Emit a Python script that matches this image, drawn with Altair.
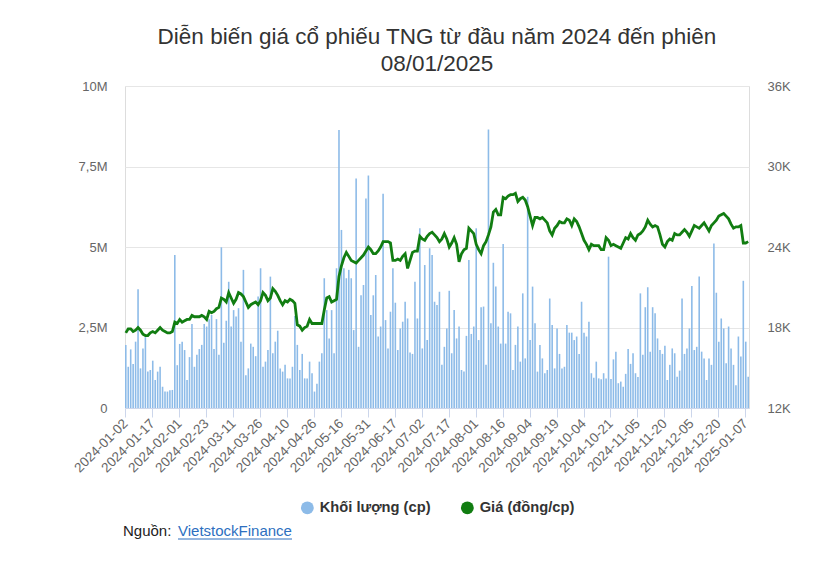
import altair as alt
import pandas as pd

FONT = "Liberation Sans"

TITLE_LINES = ["Diễn biến giá cổ phiếu TNG từ đầu năm 2024 đến phiên", "08/01/2025"]
SERIES = ["Khối lượng (cp)", "Giá (đồng/cp)"]
SERIES_COLORS = ["#8dbbe8", "#117d11"]
SOURCE_PREFIX = ["Nguồn:"]
SOURCE_LINK = ["VietstockFinance"]

START, END = "2024-01-02", "2025-01-08"
HOLIDAYS = ["2024-01-01", "2024-02-08", "2024-02-09", "2024-02-12", "2024-02-13",
            "2024-02-14", "2024-04-18", "2024-04-29", "2024-04-30", "2024-05-01",
            "2024-09-02", "2024-09-03", "2025-01-01"]

TICK_LABELS = ["2024-01-02", "2024-01-17", "2024-02-01", "2024-02-23", "2024-03-11",
               "2024-03-26", "2024-04-10", "2024-04-26", "2024-05-16", "2024-05-31",
               "2024-06-17", "2024-07-02", "2024-07-17", "2024-08-01", "2024-08-16",
               "2024-09-04", "2024-09-19", "2024-10-04", "2024-10-21", "2024-11-05",
               "2024-11-20", "2024-12-05", "2024-12-20", "2025-01-07"]

VOL_TICKS = [0, 2.5, 5, 7.5, 10]
PRICE_TICKS = [12000, 18000, 24000, 30000, 36000]

# volume, millions of shares
VOLUME_M = [
    1.96, 1.28, 1.82, 1.37, 2.06, 3.69, 1.23, 1.85, 2.20, 1.13,
    1.18, 1.47, 0.87, 1.13, 1.28, 0.66, 0.51, 0.51, 0.55, 0.56,
    4.75, 1.33, 1.99, 2.06, 1.80, 0.87, 1.58, 2.61, 1.28, 1.65,
    1.83, 1.96, 2.61, 2.53, 2.76, 2.89, 1.83, 2.76, 1.65, 4.99,
    2.03, 2.71, 3.92, 2.53, 3.04, 2.84, 3.10, 2.06, 4.29, 1.02,
    1.23, 2.00, 1.90, 1.61, 3.46, 4.34, 1.28, 1.44, 1.80, 4.08,
    1.70, 2.06, 2.40, 1.23, 1.13, 1.34, 0.92, 0.92, 1.28, 2.86,
    1.96, 1.18, 1.68, 0.92, 0.92, 1.44, 1.08, 0.51, 0.75, 1.44,
    1.70, 4.03, 3.04, 2.16, 3.04, 1.70, 4.34, 8.63, 5.53, 4.34,
    4.03, 4.29, 4.03, 2.42, 7.13, 1.90, 3.50, 3.82, 6.51, 7.22,
    2.89, 3.50, 4.13, 2.22, 2.53, 6.65, 2.73, 1.85, 2.99, 4.34,
    3.27, 1.80, 2.47, 2.68, 3.30, 2.78, 1.72, 1.68, 3.92, 2.78,
    5.58, 1.85, 4.44, 2.11, 4.96, 4.75, 3.30, 3.20, 3.61, 1.34,
    1.90, 2.47, 3.64, 1.70, 3.04, 2.16, 2.53, 1.18, 1.13, 2.24,
    4.60, 2.30, 2.53, 5.58, 2.11, 3.13, 3.15, 1.34, 8.65, 2.63,
    4.51, 3.77, 2.53, 2.00, 5.09, 2.00, 2.99, 2.94, 1.18, 1.96,
    2.53, 1.44, 3.56, 1.54, 6.56, 2.11, 3.77, 2.63, 1.13, 1.96,
    1.54, 1.08, 1.18, 3.40, 2.58, 1.23, 2.47, 1.68, 1.23, 1.28,
    2.58, 2.34, 2.34, 2.11, 2.22, 1.68, 3.30, 2.34, 2.22, 2.68,
    1.08, 0.94, 1.44, 0.92, 0.89, 1.08, 0.92, 4.70, 0.90, 1.51,
    1.75, 0.77, 0.82, 0.66, 1.06, 1.83, 1.37, 1.70, 1.08, 0.96,
    3.56, 1.65, 3.13, 3.75, 1.75, 3.13, 2.94, 2.16, 1.80, 1.68,
    1.93, 0.87, 1.34, 1.85, 1.70, 0.97, 1.16, 3.40, 1.68, 1.85,
    2.47, 3.79, 1.80, 1.90, 4.08, 1.75, 1.54, 0.87, 1.54, 1.34,
    5.11, 3.58, 2.06, 2.78, 2.47, 1.39, 2.53, 1.85, 1.34, 0.71,
    2.22, 1.60, 3.95, 2.06, 0.97,
]

# closing price, VND per share
PRICE = [
    17600, 17900, 17900, 17700, 17800, 18000, 17800, 17500, 17400, 17400,
    17600, 17700, 17600, 17800, 18000, 17800, 17700, 17600, 17600, 17700,
    18400, 18300, 18600, 18400, 18500, 18600, 18600, 18900, 18800, 18800,
    18800, 18900, 18800, 18600, 19200, 19100, 19200, 19400, 19500, 20200,
    20100, 19900, 20600, 20200, 19800, 20100, 20600, 20500, 20300, 19900,
    19500, 19700, 19800, 19900, 19700, 20000, 20600, 20400, 20000, 20200,
    20900, 20700, 20400, 20000, 19700, 20000, 19900, 20100, 20000, 19800,
    18200, 18100, 17800, 18000, 18100, 18600, 18300, 18300, 18300, 18300,
    18300, 19300, 20200, 20300, 19900, 20000, 20100, 21800, 22600, 23200,
    23600, 23300, 23000, 22900, 22800, 23000, 23200, 23400, 23700, 24000,
    23800, 23500, 23500, 23700, 24000, 24400, 24400, 24400, 24300, 23000,
    23000, 23100, 23000, 23300, 23500, 22400, 23000, 23600, 23700, 23700,
    24800, 24600, 24500, 24800, 25000, 25100, 24900, 24700, 24400, 24600,
    25000, 24600, 24000, 24300, 24700, 24200, 22900, 23500, 23800, 23900,
    25400, 25200, 25000, 24200, 23800, 23500, 24100, 24400, 24900, 25500,
    26600, 26800, 26400, 26400, 27700, 27600, 27800, 27900, 27900, 28000,
    27400, 27600, 27700, 27500, 27000, 26300, 25600, 26200, 26200, 26100,
    26200, 26000, 25800, 25200, 24900, 25400, 25600, 25900, 25800, 25800,
    26100, 26000, 25600, 26100, 25900, 25500, 25000, 24500, 24200, 23800,
    24200, 24100, 24100, 24100, 23800, 23800, 24700, 24500, 24100, 24200,
    24100, 24000, 23900, 24300, 24700, 24600, 25000, 24700, 24500, 24900,
    25000, 25200, 25500, 26000, 25700, 25500, 25600, 25500, 24900, 24200,
    24000, 24400, 24600, 24500, 25000, 24900, 24900, 25100, 25300, 25100,
    24800, 25200, 25600, 25500, 25400, 25600, 25800, 25500, 25200, 25600,
    25800, 26000, 26300, 26400, 26500, 26300, 26100, 25700, 25400, 25500,
    25500, 25600, 24300, 24300, 24400,
]

days = [d.strftime("%Y-%m-%d") for d in pd.bdate_range(START, END)]
DATES = [d for d in days if d not in HOLIDAYS]
assert len(DATES) == len(VOLUME_M) == len(PRICE), (len(DATES), len(VOLUME_M), len(PRICE))

df = pd.DataFrame({"date": DATES, "volume": VOLUME_M, "price": PRICE,
                   "series": [SERIES[0]] * len(DATES)})

x_enc = alt.X(
    "date:O", sort=None, title=None,
    scale=alt.Scale(paddingInner=0.35, paddingOuter=0.0),
    axis=alt.Axis(values=TICK_LABELS, labelAngle=-45, labelAlign="right",
                  labelBaseline="middle", labelPadding=4, tickSize=9,
                  tickColor="#ccd6eb", domainColor="#ccd6eb", labelColor="#666666",
                  labelFontSize=13.5, labelFont=FONT, grid=False, labelOverlap=False),
)

bars = alt.Chart(df).mark_bar(opacity=1).encode(
    x=x_enc,
    y=alt.Y("volume:Q", title=None,
            scale=alt.Scale(domain=[0, 10], nice=False),
            axis=alt.Axis(orient="left", values=VOL_TICKS, domain=False, ticks=False,
                          labelPadding=18, labelColor="#666666", labelFontSize=13,
                          labelFont=FONT, gridColor="#e6e6e6", grid=True,
                          labelExpr="datum.value == 0 ? '0' : replace(format(datum.value, '~g'), '.', ',') + 'M'")),
    color=alt.Color("series:N",
                    scale=alt.Scale(domain=SERIES, range=SERIES_COLORS),
                    legend=alt.Legend(title=None, orient="none", direction="horizontal",
                                      legendX=175, legendY=414, symbolType="circle",
                                      symbolSize=165, symbolStrokeWidth=0,
                                      labelFont=FONT, labelFontSize=14.7,
                                      labelFontWeight="bold", labelColor="#333333",
                                      labelOffset=5, columnPadding=29)),
)

line = alt.Chart(df).mark_line(color=SERIES_COLORS[1], strokeWidth=2.8).encode(
    x=x_enc,
    y=alt.Y("price:Q", title=None,
            scale=alt.Scale(domain=[12000, 36000], nice=False, zero=False),
            axis=alt.Axis(orient="right", values=PRICE_TICKS, domain=False, ticks=False,
                          grid=False, labelPadding=18, labelColor="#666666",
                          labelFontSize=13, labelFont=FONT,
                          labelExpr="format(datum.value / 1000, 'd') + 'K'")),
)

src1 = alt.Chart(pd.DataFrame({"t": SOURCE_PREFIX})).mark_text(
    align="left", baseline="alphabetic", fontSize=15, font=FONT, color="#222222"
).encode(x=alt.value(-2), y=alt.value(450), text="t:N")

src2 = alt.Chart(pd.DataFrame({"t": SOURCE_LINK})).mark_text(
    align="left", baseline="alphabetic", fontSize=15, font=FONT, color="#2d6fbf"
).encode(x=alt.value(53), y=alt.value(450), text="t:N")

underline = alt.Chart(pd.DataFrame({"t": SOURCE_LINK})).mark_rule(
    color="#2d6fbf", strokeWidth=1
).encode(x=alt.value(53), x2=alt.value(167), y=alt.value(453))

chart = alt.layer(bars, line, src1, src2, underline).resolve_scale(
    y="independent"
).properties(
    width=624, height=322,
    autosize=alt.AutoSizeParams(type="none"),
    padding={"left": 125, "top": 86, "right": 86, "bottom": 159},
    title=alt.Title(TITLE_LINES, font=FONT, fontSize=22.5, fontWeight="normal",
                    color="#333333", anchor="middle", frame="group", offset=5,
                    lineHeight=27),
).configure_view(stroke=None).configure(background="white")

chart.save("out.html", embed_options={"renderer": "svg", "actions": False})
